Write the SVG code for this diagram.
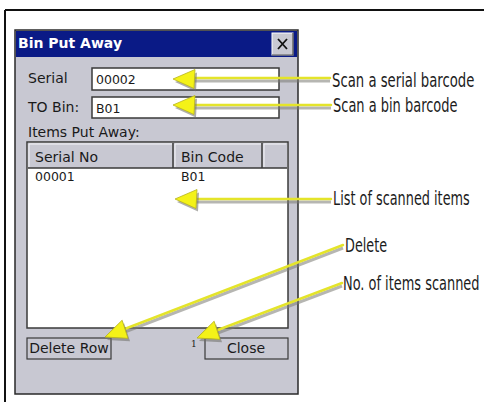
<svg xmlns="http://www.w3.org/2000/svg" xmlns:xlink="http://www.w3.org/1999/xlink" width="484" height="402" viewBox="0 0 484 402">
  <style>
    .ui { font-family: "DejaVu Sans", "Noto Sans", sans-serif; font-size: 14px; fill: #1a1a1a; }
    .num { font-family: "DejaVu Sans", "Noto Sans", sans-serif; font-size: 12.5px; fill: #1a1a1a; }
    .title { font-family: "DejaVu Sans", sans-serif; font-size: 14px; font-weight: bold; fill: #ffffff; }
    .callout { font-family: "DejaVu Sans Condensed", "DejaVu Sans", sans-serif; font-stretch: condensed; font-size: 19px; fill: #1c1c1c; }
    .panel { fill: #c8c8d2; }
    .box { fill: #ffffff; stroke: #3a3a3a; stroke-width: 1.5; }
    .btn { fill: #c8c8d2; stroke: #3a3a3a; stroke-width: 1.2; }
    .lshadow { stroke: #7a7a72; stroke-width: 3; opacity: 0.55; fill: none; }
    .lyellow { stroke: #e4e42a; stroke-width: 2.5; fill: none; stroke-linecap: round; }
    .hshadow { fill: #6e6e66; opacity: 0.55; }
    .hyellow { fill: #f4f218; stroke: #b8b420; stroke-width: 0.8; }
  </style>
  <defs>
    <path id="head" d="M0,0 L22,-9.5 L21,9.5 Z"/>
  </defs>

  <rect x="0" y="0" width="484" height="402" fill="#ffffff"/>
  <g id="frame">
    <line x1="5" y1="10" x2="484" y2="10" stroke="#111" stroke-width="2"/>
    <line x1="5" y1="10" x2="5" y2="402" stroke="#111" stroke-width="2"/>
  </g>

  <g id="dialog">
    <rect x="15" y="30" width="283" height="364" class="panel" stroke="#2a2a2a" stroke-width="1.5"/>
    <rect x="16" y="31" width="281" height="26" fill="#0a1a86"/>
    <text x="18" y="48" class="title">Bin Put Away</text>
  </g>

  <g id="close-x">
    <rect x="272" y="33" width="21" height="22" fill="#c8c8d2" stroke="#ffffff" stroke-width="1"/>
    <path d="M293,33 V55 H272" fill="none" stroke="#404040" stroke-width="1.2"/>
    <path d="M278,39 L287,49 M287,39 L278,49" stroke="#111" stroke-width="1.8"/>
  </g>

  <g id="serial-field">
    <text x="28" y="83" class="ui">Serial</text>
    <rect x="92" y="68" width="187" height="22" class="box"/>
    <text x="96" y="84" class="num">00002</text>
  </g>

  <g id="tobin-field">
    <text x="28" y="112" class="ui">TO Bin:</text>
    <rect x="92" y="97" width="187" height="21" class="box"/>
    <text x="96" y="113" class="num">B01</text>
  </g>

  <g id="items-list">
    <text x="28" y="137" class="ui">Items Put Away:</text>
    <rect x="27" y="142" width="261" height="186" class="box"/>
    <rect x="28" y="143" width="259" height="25" class="panel"/>
    <path d="M28,168 H287 M173,143 V168 M262,143 V168" stroke="#3a3a3a" stroke-width="1.5" fill="none"/>
    <path d="M29,167 V144 H172 M175,167 V144 H261 M264,167 V144 H286" stroke="#f4f4f8" stroke-width="1" fill="none"/>
    <text x="35" y="162" class="ui">Serial No</text>
    <text x="181" y="162" class="ui">Bin Code</text>
    <text x="35" y="181" class="num">00001</text>
    <text x="181" y="181" class="num">B01</text>
  </g>

  <g id="delete-row-btn">
    <rect x="27" y="338" width="84" height="21" class="btn"/>
    <text x="69" y="353" class="ui" text-anchor="middle">Delete Row</text>
  </g>

  <g id="count">
    <text x="191" y="347" font-family="DejaVu Serif, serif" font-size="9" fill="#1a1a1a">1</text>
  </g>

  <g id="close-btn">
    <rect x="205" y="338" width="83" height="21" class="btn"/>
    <text x="246" y="353" class="ui" text-anchor="middle">Close</text>
  </g>

  <g id="labels">
    <text transform="translate(332,87) scale(0.775,1)" class="callout">Scan a serial barcode</text>
    <text transform="translate(333,112) scale(0.76,1)" class="callout">Scan a bin barcode</text>
    <text transform="translate(333,205) scale(0.752,1)" class="callout">List of scanned items</text>
    <text transform="translate(345,252) scale(0.75,1)" class="callout">Delete</text>
    <text transform="translate(343,290) scale(0.757,1)" class="callout">No. of items scanned</text>
  </g>

  <g id="connectors">
    <g id="arrow-serial">
      <line x1="192" y1="81" x2="330" y2="81" class="lshadow"/>
      <line x1="192" y1="78" x2="330" y2="78" class="lyellow"/>
      <use xlink:href="#head" href="#head" class="hshadow" transform="translate(175,82)"/>
      <use xlink:href="#head" href="#head" class="hyellow" transform="translate(173,79)"/>
    </g>
    <g id="arrow-bin">
      <line x1="192" y1="108" x2="331" y2="108" class="lshadow"/>
      <line x1="192" y1="105" x2="331" y2="105" class="lyellow"/>
      <use xlink:href="#head" href="#head" class="hshadow" transform="translate(175,108)"/>
      <use xlink:href="#head" href="#head" class="hyellow" transform="translate(173,105)"/>
    </g>
    <g id="arrow-list">
      <line x1="194" y1="202" x2="331" y2="202" class="lshadow"/>
      <line x1="194" y1="199" x2="331" y2="199" class="lyellow"/>
      <use xlink:href="#head" href="#head" class="hshadow" transform="translate(177,202)"/>
      <use xlink:href="#head" href="#head" class="hyellow" transform="translate(175,199)"/>
    </g>
    <g id="arrow-delete">
      <line x1="122" y1="333" x2="343" y2="248" class="lshadow"/>
      <line x1="122" y1="330" x2="343" y2="245" class="lyellow"/>
      <use xlink:href="#head" href="#head" class="hshadow" transform="translate(107,340) rotate(-21)"/>
      <use xlink:href="#head" href="#head" class="hyellow" transform="translate(105,337) rotate(-21)"/>
    </g>
    <g id="arrow-count">
      <line x1="215" y1="334" x2="342" y2="286" class="lshadow"/>
      <line x1="215" y1="331" x2="342" y2="283" class="lyellow"/>
      <use xlink:href="#head" href="#head" class="hshadow" transform="translate(199,341) rotate(-21)"/>
      <use xlink:href="#head" href="#head" class="hyellow" transform="translate(197,338) rotate(-21)"/>
    </g>
  </g>
</svg>
